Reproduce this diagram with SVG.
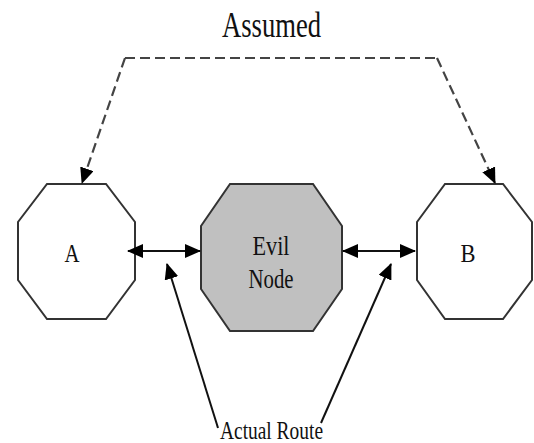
<svg xmlns="http://www.w3.org/2000/svg" width="534" height="443" viewBox="0 0 534 443">
  <style>
    .node { stroke: #333; stroke-width: 2; stroke-linejoin: miter; }
    .plain { fill: #ffffff; }
    .evil { fill: #c0c0c0; }
    .label { font-family: "Liberation Serif", "Times New Roman", serif; fill: #111; }
    .link { stroke: #111; stroke-width: 2; fill: none; }
    .dash { stroke: #444; stroke-width: 2.2; fill: none; stroke-dasharray: 10 5; }
  </style>
  <defs>
    <marker id="head" viewBox="0 0 16 14" refX="15" refY="7" markerWidth="16" markerHeight="14" markerUnits="userSpaceOnUse" orient="auto-start-reverse">
      <path d="M0,0 L16,7 L0,14 z" fill="#000"/>
    </marker>
  </defs>

  <g id="title">
    <text class="label" x="222" y="37" font-size="36" textLength="99" lengthAdjust="spacingAndGlyphs">Assumed</text>
  </g>

  <g id="node-a">
    <polygon class="node plain" points="47,184 106,184 135,222 135,280 106,319 47,319 18,280 18,222"/>
    <text class="label" x="72" y="262" font-size="26" text-anchor="middle" textLength="15" lengthAdjust="spacingAndGlyphs">A</text>
  </g>

  <g id="node-evil">
    <polygon class="node evil" points="230,184 313,184 342,226 342,289 313,331 230,331 201,289 201,226"/>
    <text class="label" x="271" y="255" font-size="28" text-anchor="middle" textLength="37" lengthAdjust="spacingAndGlyphs">Evil</text>
    <text class="label" x="271" y="288" font-size="28" text-anchor="middle" textLength="45" lengthAdjust="spacingAndGlyphs">Node</text>
  </g>

  <g id="node-b">
    <polygon class="node plain" points="445,184 503,184 532,222 532,280 503,319 445,319 417,280 417,222"/>
    <text class="label" x="468" y="262" font-size="26" text-anchor="middle" textLength="15" lengthAdjust="spacingAndGlyphs">B</text>
  </g>

  <g id="connectors">
    <!-- assumed direct route A <-> B -->
    <path class="dash" d="M125,58 L437,58"/>
    <path class="dash" d="M125,58 L82,183" marker-end="url(#head)"/>
    <path class="dash" d="M437,58 L495,183" marker-end="url(#head)"/>
    <!-- actual route through the evil node -->
    <path class="link" d="M128,251 L200,251" marker-start="url(#head)" marker-end="url(#head)"/>
    <path class="link" d="M343,251 L415,251" marker-start="url(#head)" marker-end="url(#head)"/>
    <path class="link" d="M218,428 L167,264" marker-end="url(#head)"/>
    <path class="link" d="M321,423 L391,264" marker-end="url(#head)"/>
  </g>

  <g id="caption">
    <text class="label" x="220" y="439" font-size="25" textLength="103" lengthAdjust="spacingAndGlyphs">Actual Route</text>
  </g>
</svg>
